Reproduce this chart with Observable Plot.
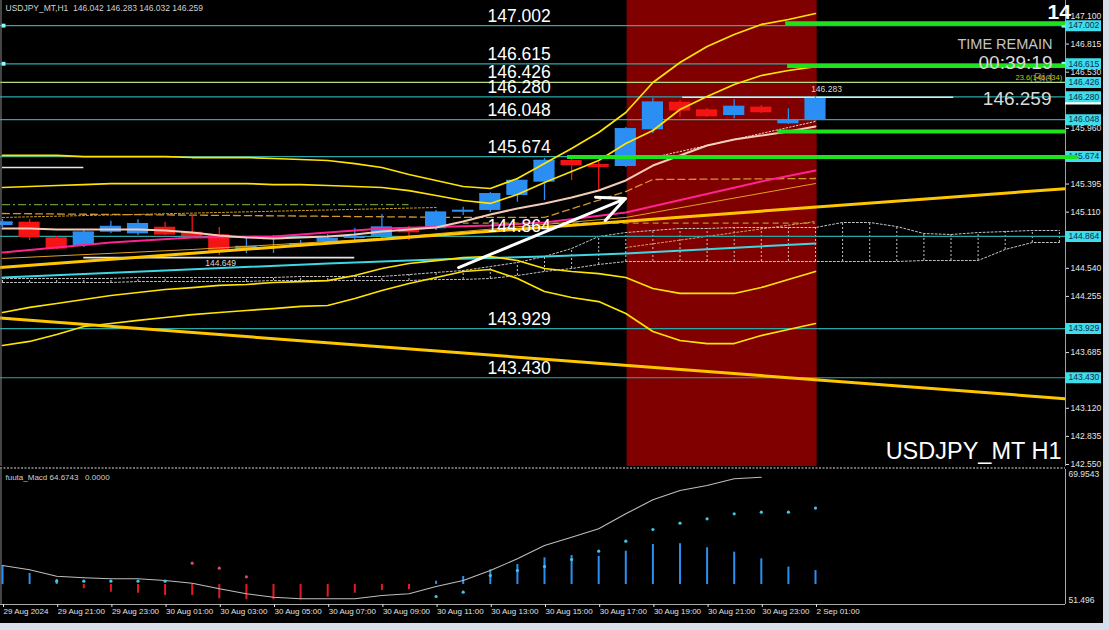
<!DOCTYPE html>
<html>
<head>
<meta charset="utf-8">
<script src="https://cdn.jsdelivr.net/npm/d3@7"></script>
<script src="https://cdn.jsdelivr.net/npm/@observablehq/plot@0.6"></script>
<style>
  html, body { margin: 0; padding: 0; background: #d6dfea; }
  #wrap { position: relative; width: 1109px; height: 630px; overflow: hidden; background: #d6dfea; }
  #black { position: absolute; left: 0; top: 0; width: 1103px; height: 623px; background: #000; }
  #main, #macd { position: absolute; left: 0; width: 1103px; }
  #main { top: 0; }
  #macd { top: 467px; }
</style>
</head>
<body>
<div id="wrap"><div id="black"></div><div id="main"></div><div id="macd"></div></div>
<script>
// ---------------- DATA ----------------
const symbolHeader = "USDJPY_MT,H1\u00a0\u00a0146.042 146.283 146.032 146.259";
const barIdx = d3.range(31);            // 29 Aug 19:00 ... 2 Sep 01:00 (H1 bars)
const openP  = [144.974,145.008,144.850,144.771,144.906,144.890,144.957,144.906,144.880,144.721,144.832,144.771,144.805,144.843,144.863,144.934,144.941,145.109,145.127,145.279,145.414,145.634,145.593,145.573,145.945,146.225,146.148,146.090,146.175,146.006,146.042];
const highP  = [145.035,145.035,144.863,144.934,145.018,145.032,145.008,145.076,144.954,144.863,144.873,144.822,144.883,144.944,145.086,144.964,145.127,145.160,145.309,145.451,145.654,145.654,145.614,145.969,146.263,146.242,146.161,146.250,146.192,146.158,146.283];
const lowP   = [144.954,144.822,144.731,144.751,144.893,144.873,144.873,144.856,144.670,144.690,144.690,144.751,144.782,144.822,144.843,144.822,144.924,145.076,145.106,145.211,145.228,145.431,145.329,145.563,145.905,146.073,146.070,146.057,146.111,145.999,146.032];
const closeP = [145.008,144.863,144.748,144.906,144.964,144.992,144.890,144.873,144.721,144.761,144.843,144.789,144.843,144.856,144.957,144.913,145.109,145.127,145.296,145.431,145.634,145.593,145.576,145.955,146.225,146.148,146.090,146.182,146.131,146.047,146.259];

// Bollinger-type bands (per bar)
const bandUp3 = [145.685,145.685,145.685,145.674,145.674,145.674,145.674,145.664,145.664,145.664,145.654,145.644,145.634,145.603,145.563,145.492,145.431,145.370,145.350,145.451,145.603,145.756,145.918,146.121,146.425,146.628,146.790,146.912,147.014,147.064,147.125];
const bandUp2 = [145.360,145.370,145.380,145.390,145.400,145.400,145.400,145.400,145.400,145.400,145.390,145.390,145.380,145.370,145.360,145.329,145.279,145.228,145.198,145.289,145.411,145.522,145.634,145.806,145.938,146.151,146.283,146.405,146.496,146.547,146.587];
const bandLo2 = [144.092,144.143,144.183,144.224,144.264,144.295,144.325,144.345,144.366,144.376,144.396,144.406,144.416,144.467,144.538,144.589,144.619,144.650,144.660,144.619,144.538,144.508,144.487,144.447,144.335,144.285,144.285,144.285,144.345,144.427,144.508];
const bandLo3 = [143.757,143.798,143.869,143.950,143.980,144.011,144.041,144.071,144.092,144.112,144.132,144.153,144.163,144.234,144.315,144.386,144.447,144.508,144.528,144.437,144.305,144.244,144.203,144.082,143.899,143.808,143.777,143.777,143.858,143.919,143.980];
const midMA   = [144.944,144.944,144.934,144.934,144.934,144.934,144.924,144.903,144.873,144.853,144.843,144.853,144.863,144.883,144.913,144.934,144.954,145.015,145.086,145.147,145.198,145.258,145.329,145.431,145.583,145.685,145.786,145.847,145.887,145.928,145.979];

// Other moving averages (knots)
const pinkX = [0,4,7,10,14,18,20,23,28,30];
const pinkY = [144.701,144.802,144.853,144.863,144.944,144.974,145.005,145.106,145.421,145.532];
const cyanX = [0,6,12,16,20,23,30];
const cyanY = [144.447,144.518,144.589,144.629,144.660,144.690,144.792];
const orangeX = [0,7,14,23,30];
const orangeY = [144.640,144.731,144.843,145.056,145.400];
const kijunX = [0,17,20,23,24,30];
const kijunY = [145.096,145.056,145.056,145.319,145.441,145.451];
const dotYX = [0,16];
const dotYY = [145.056,145.157];
const dotWX = [24,30];
const dotWY = [145.664,146.030];
const greenDash = {y: 145.187, x1: 0, x2: 15};
const oliveDash = {y: 144.998, x1: 17, x2: 30};

// Cloud (per bar, incl. future bars)
const cloudIdx = d3.range(40);
const cloudUpper = [144.437,144.437,144.437,144.437,144.437,144.447,144.447,144.447,144.447,144.447,144.447,144.457,144.457,144.457,144.457,144.477,144.498,144.518,144.558,144.599,144.660,144.741,144.863,144.903,144.924,144.944,144.944,144.954,144.954,144.954,144.954,145.005,145.005,144.964,144.893,144.883,144.903,144.913,144.924,144.924];
const cloudLower = [144.396,144.396,144.396,144.396,144.396,144.406,144.406,144.406,144.406,144.406,144.416,144.416,144.416,144.416,144.416,144.416,144.427,144.427,144.437,144.467,144.508,144.538,144.579,144.609,144.609,144.609,144.609,144.609,144.609,144.609,144.609,144.609,144.609,144.609,144.619,144.619,144.619,144.731,144.802,144.802];
const cloudSlantX = [23,30];
const cloudSlantY = [144.751,145.015];

// Trend lines (start/end bar, price)
const trendUp   = {x1: -0.1, y1: 144.548, x2: 39.3, y2: 145.350};
const trendDown = {x1: -0.1, y1: 144.037, x2: 39.3, y2: 143.216};

// Horizontal level lines
const levels = [147.002, 146.615, 146.426, 146.280, 146.048, 145.674, 144.864, 143.929, 143.430];
const levelAccent = 146.426;
const levelMarked = [147.002, 146.615];
const bidPrice = 146.259;
const greenLevels = [147.027, 146.592, 145.928, 145.669];
const greenStart  = [28.9, 28.97, 28.6, 20.85];
const greenEnd    = [39.225, 39.225, 39.225, 39.67];
const whiteLevels = [145.563, 144.649, 146.276];
const whiteStart  = [0, 3, 25.1];
const whiteEnd    = [3, 13, 35.1];
const redZone = [23.05, 30.06];
const arrowLine = {x1: 16.83, y1: 144.548, x2: 22.99, y2: 145.248};

const yTicks = [147.100, 146.815, 146.530, 145.960, 145.395, 145.110, 144.540, 144.255, 143.685, 143.120, 142.835, 142.550];

// MACD sub-window
const macdRange = [51.496, 69.9543];
const macdZero = 54.231;
const macdHist = [2.60,1.50,0.68,-0.59,-1.05,-1.19,-1.50,-1.50,-1.96,-2.09,-2.09,-2.09,-1.74,-1.19,-0.82,-0.72,0.45,1.09,2.01,2.73,3.65,3.97,3.83,4.55,5.47,5.56,5.02,4.42,3.51,2.37,1.91];
const macdLine = [56.828,56.241,55.365,55.147,55.010,55.010,54.777,54.408,53.643,52.959,52.494,52.275,52.275,52.275,52.727,52.959,53.957,54.777,56.145,57.744,59.563,60.698,61.846,63.897,65.811,67.083,67.767,68.683,68.901];
const sigIdx = [2,3,4,5,6,7,8,9,16,17,18,19,20,21,22,23,24,25,26,27,28,29,30];
const sigVal = [54.682,54.682,54.682,54.682,54.682,57.143,56.459,55.283,52.590,53.178,55.461,56.145,56.692,57.649,58.784,60.151,61.751,62.612,63.214,63.897,64.116,64.116,64.674];
const sigPink = [7,8,9];

const timeTickIdx = [0,2,4,6,8,10,12,14,16,18,20,22,24,26,28,30];
const timeLabels = ["29 Aug 2024","29 Aug 21:00","29 Aug 23:00","30 Aug 01:00","30 Aug 03:00","30 Aug 05:00","30 Aug 07:00","30 Aug 09:00","30 Aug 11:00","30 Aug 13:00","30 Aug 15:00","30 Aug 17:00","30 Aug 19:00","30 Aug 21:00","30 Aug 23:00","2 Sep 01:00"];

// ---------------- LAYOUT ----------------
const BAR_PX = 27.1;
const FRAME_RIGHT = 1065;
const xDomain = [-2 / BAR_PX, (FRAME_RIGHT - 2) / BAR_PX];
const priceDomain = [142.5295, 147.257];
const F = "Liberation Sans, Arial, sans-serif";
const BLUE = "#2a8ef2", RED = "#f41414";
const BOX_W = 36 / BAR_PX;

const pts = (xs, ys) => xs.map((x, k) => ({x, y: ys[k]}));
const candles = barIdx.map(i => ({i, o: openP[i], h: highP[i], l: lowP[i], c: closeP[i]}));
const upC = candles.filter(d => d.c >= d.o);
const dnC = candles.filter(d => d.c < d.o);
const greens = greenLevels.map((y, k) => ({y, x1: greenStart[k], x2: greenEnd[k]}));
const whites = whiteLevels.map((y, k) => ({y, x1: whiteStart[k], x2: whiteEnd[k]}));
const bodyW = 0.39;

function candleMarks(data, color) {
  return [
    Plot.ruleX(data, {x: "i", y1: "l", y2: "h", stroke: color, strokeWidth: 1.3}),
    Plot.rect(data, {x1: d => d.i - bodyW, x2: d => d.i + bodyW, y1: "o", y2: "c", fill: color}),
    Plot.ruleY(data, {y: "c", x1: d => d.i - bodyW, x2: d => d.i + bodyW, stroke: color, strokeWidth: 1.5})
  ];
}

const main = Plot.plot({
  width: 1103, height: 467,
  marginTop: 0, marginBottom: 1, marginLeft: 0, marginRight: 38,
  x: {domain: xDomain, axis: null},
  y: {domain: priceDomain, axis: null},
  style: {background: "transparent", color: "#e6e6e6", fontFamily: F, overflow: "visible"},
  marks: [
    Plot.rect([redZone], {x1: d => d[0], x2: d => d[1], y1: priceDomain[0], y2: priceDomain[1], fill: "#800000"}),
    // cloud
    Plot.ruleX(cloudIdx, {x: d => d, y1: d => cloudLower[d], y2: d => cloudUpper[d], stroke: "#c4c4c4", strokeWidth: 1, strokeDasharray: "2,2", clip: true}),
    Plot.line(cloudIdx, {x: d => d, y: d => cloudUpper[d], stroke: "#c4c4c4", strokeWidth: 1, strokeDasharray: "2,2", clip: true}),
    Plot.line(cloudIdx, {x: d => d, y: d => cloudLower[d], stroke: "#c4c4c4", strokeWidth: 1, strokeDasharray: "2,2", clip: true}),
    Plot.line(pts(cloudSlantX, cloudSlantY), {x: "x", y: "y", stroke: "#d0a060", strokeWidth: 1, strokeDasharray: "2,2"}),
    // level lines
    Plot.ruleY(levels.filter(v => v !== levelAccent), {y: d => d, stroke: "#2aa8a8", strokeWidth: 1.2}),
    Plot.ruleY([levelAccent], {y: d => d, stroke: "#b6dc88", strokeWidth: 1.2}),
    Plot.dot(levelMarked, {x: xDomain[0], y: d => d, dx: 3, symbol: "square", r: 2.2, fill: "#8ff"}),
    // dashed auxiliary lines
    Plot.ruleY([greenDash], {y: "y", x1: "x1", x2: "x2", stroke: "#5e9a3c", strokeWidth: 1.2, strokeDasharray: "8,3,2,3"}),
    Plot.line(pts(dotYX, dotYY), {x: "x", y: "y", stroke: "#c8a028", strokeWidth: 1, strokeDasharray: "2,2"}),
    Plot.ruleY([oliveDash], {y: "y", x1: "x1", x2: "x2", stroke: "#a89a30", strokeWidth: 1.2, strokeDasharray: "6,4"}),
    Plot.line(pts(kijunX, kijunY), {x: "x", y: "y", stroke: "#d2982c", strokeWidth: 1.3, strokeDasharray: "7,4"}),
    // white horizontal segments
    Plot.ruleY(whites, {y: "y", x1: "x1", x2: "x2", stroke: "#e6e6e6", strokeWidth: 1.6}),
    // candles
    ...candleMarks(dnC, RED),
    ...candleMarks(upC, BLUE),
    // moving averages
    Plot.line(pts(cyanX, cyanY), {x: "x", y: "y", stroke: "#3fd6e2", strokeWidth: 2}),
    Plot.line(pts(orangeX, orangeY), {x: "x", y: "y", stroke: "#e0a020", strokeWidth: 1}),
    Plot.line(pts(pinkX, pinkY), {x: "x", y: "y", stroke: "#ff2392", strokeWidth: 2}),
    Plot.line(barIdx, {x: d => d, y: d => midMA[d], stroke: "#f3cbb6", strokeWidth: 2}),
    Plot.line(pts(dotWX, dotWY), {x: "x", y: "y", stroke: "#f0d8d0", strokeWidth: 1, strokeDasharray: "1.5,2"}),
    // bands
    Plot.line(barIdx, {x: d => d, y: d => bandUp3[d], stroke: "#ffe400", strokeWidth: 1.7}),
    Plot.line(barIdx, {x: d => d, y: d => bandUp2[d], stroke: "#ffe400", strokeWidth: 1.7}),
    Plot.line(barIdx, {x: d => d, y: d => bandLo2[d], stroke: "#ffe400", strokeWidth: 1.7}),
    Plot.line(barIdx, {x: d => d, y: d => bandLo3[d], stroke: "#ffe400", strokeWidth: 1.7}),
    // trend lines
    Plot.link([trendUp, trendDown], {x1: "x1", y1: "y1", x2: "x2", y2: "y2", stroke: "#ffc600", strokeWidth: 3, clip: true}),
    // arrow
    Plot.arrow([arrowLine], {x1: "x1", y1: "y1", x2: "x2", y2: "y2", stroke: "white", strokeWidth: 3, headLength: 15, headAngle: 50}),
    // big level labels
    Plot.text(levels, {x: (487 - 2) / BAR_PX, y: d => d, text: d => d.toFixed(3), textAnchor: "start", lineAnchor: "bottom", dy: -4, fill: "white", fontSize: 17.5, fontFamily: F}),
    Plot.text([144.649], {x: 8.05, y: d => d, text: d => d.toFixed(3), dy: 6, fill: "#d8d8d8", fontSize: 8.5, fontFamily: F}),
    Plot.text([146.283], {x: 30, y: d => d, text: d => d.toFixed(3), dx: 11, dy: -7, fill: "#d8d8d8", fontSize: 8.5, fontFamily: F}),
    // right axis
    Plot.ruleX([xDomain[1]], {stroke: "#a0a0a0", strokeWidth: 1}),
    Plot.ruleX([xDomain[0]], {stroke: "#8a8a8a", strokeWidth: 1, dx: 0.5}),
    Plot.axisY(yTicks, {anchor: "right", label: null, tickSize: 3, tickPadding: 2, tickFormat: d => d.toFixed(3), fontSize: 8.5, fontFamily: F}),
    Plot.ruleY([bidPrice], {y: d => d, x1: xDomain[1], x2: xDomain[1] + BOX_W, stroke: "white", strokeWidth: 11}),
    Plot.ruleY(levels, {y: d => d, x1: xDomain[1], x2: xDomain[1] + BOX_W, stroke: "#3fdde9", strokeWidth: 11}),
    Plot.text(levels, {x: xDomain[1], y: d => d, dx: 3, text: d => d.toFixed(3), textAnchor: "start", fill: "#0b2c50", fontSize: 8.5, fontFamily: F}),
    Plot.dot(levelMarked, {x: xDomain[1], y: d => d, dx: -2, symbol: "square", r: 2.2, fill: "#8ff"}),
    // green levels
    Plot.ruleY(greens, {y: "y", x1: "x1", x2: "x2", stroke: "#1fe21f", strokeWidth: 4}),
    // annotations
    Plot.text([symbolHeader], {frameAnchor: "top-left", dx: 5, dy: 4, textAnchor: "start", fill: "#d0d0d0", fontSize: 8.5, fontFamily: F}),
    Plot.text(["14"], {frameAnchor: "top-right", dx: -18, dy: 4, textAnchor: "start", fill: "white", fontSize: 21, fontWeight: "bold", fontFamily: F}),
    Plot.text(["TIME REMAIN"], {frameAnchor: "top-right", dx: -13, dy: 38, textAnchor: "end", fill: "#c4c4c4", fontSize: 14.5, fontFamily: F}),
    Plot.text(["Bid"], {frameAnchor: "top-right", dx: -13, dy: 72, textAnchor: "end", fill: "#6e6e6e", fontSize: 13, fontFamily: F}),
    Plot.text(["00:39:19"], {frameAnchor: "top-right", dx: -13, dy: 55, textAnchor: "end", fill: "#dadada", fontSize: 19, fontFamily: F}),
    Plot.text(["23.6(146.434)"], {frameAnchor: "top-right", dx: -50, dy: 74, textAnchor: "start", fill: "#c8c400", fontSize: 7.5, fontFamily: F}),
    Plot.text([bidPrice.toFixed(3)], {frameAnchor: "top-right", dx: -14, dy: 91, textAnchor: "end", fill: "#dadada", fontSize: 19, fontFamily: F}),
    Plot.text(["USDJPY_MT H1"], {frameAnchor: "bottom-right", dx: -4, dy: -8, textAnchor: "end", fill: "white", fontSize: 23.5, fontFamily: F})
  ]
});
document.getElementById("main").appendChild(main);

// ---------------- MACD ----------------
const hist = barIdx.map(i => ({i, v: macdZero + macdHist[i], up: macdHist[i] >= 0}));
const sig = sigIdx.map((i, k) => ({i, v: sigVal[k], pink: sigPink.includes(i)}));

const macd = Plot.plot({
  width: 1103, height: 156,
  marginTop: 2, marginBottom: 19, marginLeft: 0, marginRight: 38,
  x: {domain: xDomain, axis: null, label: null},
  y: {domain: macdRange, axis: null, label: null},
  style: {background: "transparent", color: "#e0e0e0", fontFamily: F, overflow: "visible"},
  marks: [
    Plot.ruleY([macdRange[1]], {y: d => d, stroke: "#dcdcdc", strokeWidth: 1, strokeDasharray: "2,1.5", dy: -1.5}),
    Plot.ruleY([macdRange[0]], {y: d => d, stroke: "#a8a8a8", strokeWidth: 1}),
    Plot.ruleX([xDomain[1]], {stroke: "#a8a8a8", strokeWidth: 1}),
    Plot.ruleX([xDomain[0]], {stroke: "#8a8a8a", strokeWidth: 1, dx: 0.5}),
    Plot.ruleX(hist.filter(d => d.up), {x: "i", y1: macdZero, y2: "v", stroke: "#2d8ef0", strokeWidth: 2}),
    Plot.ruleX(hist.filter(d => !d.up), {x: "i", y1: macdZero, y2: "v", stroke: "#e61a1e", strokeWidth: 2}),
    Plot.line(macdLine.map((v, i) => ({i, v})), {x: "i", y: "v", stroke: "#bdbdbd", strokeWidth: 1.1}),
    Plot.dot(sig.filter(d => !d.pink), {x: "i", y: "v", r: 1.6, fill: "#3cc8e6"}),
    Plot.dot(sig.filter(d => d.pink), {x: "i", y: "v", r: 1.6, fill: "#e0407a"}),
    Plot.text(["fuuta_Macd 64.6743\u00a0\u00a0\u00a00.0000"], {frameAnchor: "top-left", dx: 5, dy: 5, textAnchor: "start", fill: "#d0d0d0", fontSize: 8, fontFamily: F}),
    Plot.text([macdRange[1]], {x: xDomain[1], y: d => d, dx: 3, dy: 5, text: d => d.toFixed(4), textAnchor: "start", fill: "#e0e0e0", fontSize: 8.5, fontFamily: F}),
    Plot.text([macdRange[0]], {x: xDomain[1], y: d => d, dx: 3, dy: -4, text: d => d.toFixed(3), textAnchor: "start", fill: "#e0e0e0", fontSize: 8.5, fontFamily: F}),
    Plot.axisX(timeTickIdx, {anchor: "bottom", label: null, tickSize: 3, tickPadding: 1, tickFormat: d => timeLabels[timeTickIdx.indexOf(d)], textAnchor: "start", dx: 1, fontSize: 8, fontFamily: F})
  ]
});
document.getElementById("macd").appendChild(macd);
</script>
</body>
</html>
